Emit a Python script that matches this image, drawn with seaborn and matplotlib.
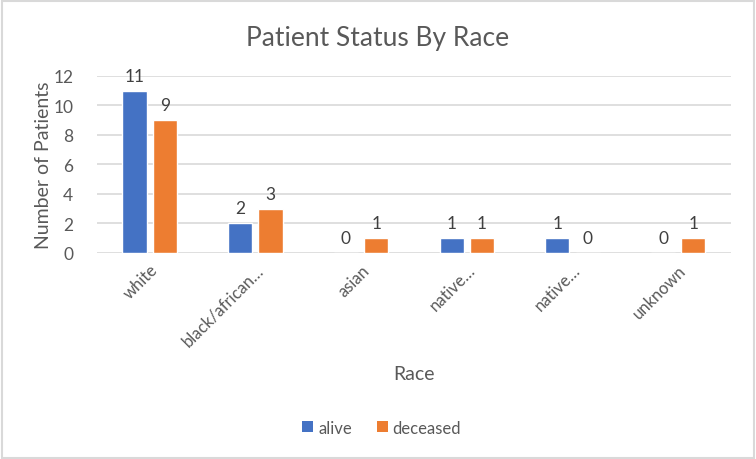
import matplotlib
matplotlib.use("Agg")
import matplotlib.pyplot as plt
import seaborn as sns
import pandas as pd
from matplotlib.patches import Rectangle, Patch

races = ["white", "black/african…", "asian", "native…", "native…", "unknown"]
race_keys = ["white", "black/african", "asian", "native1", "native2", "unknown"]
alive = [11, 2, 0, 1, 1, 0]
deceased = [9, 3, 1, 1, 0, 1]
statuses = ["alive", "deceased"]
colors = ["#4472C4", "#ED7D31"]

df = pd.DataFrame({
    "race": race_keys * 2,
    "status": ["alive"] * len(race_keys) + ["deceased"] * len(race_keys),
    "count": alive + deceased,
})

sns.set_theme(style="white")
plt.rcParams['font.family'] = ['Lato', 'DejaVu Sans']
txt = "#595959"

fig = plt.figure(figsize=(7.56, 4.6), dpi=100)
ax = fig.add_axes([0.128, 0.448, 0.839, 0.385])

sns.barplot(data=df, x="race", y="count", hue="status", order=race_keys,
            hue_order=statuses, palette=colors, width=0.572, gap=0.2,
            saturation=1, ax=ax, legend=False, zorder=3)

for cont in ax.containers:
    ax.bar_label(cont, labels=[f"{int(v)}" for v in cont.datavalues],
                 padding=5, fontsize=12.5, color="#404040")

ax.set_ylim(0, 12)
ax.set_yticks(range(0, 13, 2))
ax.set_xlim(-0.5, len(race_keys) - 0.5)
ax.set_xticks(range(len(races)))
ax.set_xticklabels(races, rotation=45, ha="right", rotation_mode="anchor",
                   fontsize=12, color=txt)
ax.tick_params(axis="y", length=0, pad=17, labelsize=12.5, labelcolor=txt)
ax.tick_params(axis="x", length=0, pad=6)
for s in ax.spines.values():
    s.set_visible(False)
ax.grid(axis="y", color="#D9D9D9", linewidth=1.2, zorder=0)
ax.set_axisbelow(True)

ax.set_ylabel("Number of Patients", fontsize=14, color=txt, labelpad=1)
ax.set_xlabel("Race", fontsize=14, color=txt, labelpad=12)
fig.suptitle("Patient Status By Race", fontsize=19, color=txt, x=0.5, y=0.943)

handles = [Patch(facecolor=c, edgecolor="none") for c in colors]
fig.legend(handles, statuses, loc="center", bbox_to_anchor=(0.505, 0.068),
           ncol=2, frameon=False, fontsize=12, handlelength=0.65,
           handleheight=0.65, handletextpad=0.3, columnspacing=1.5,
           labelcolor=txt)

fig.patches.append(Rectangle((0.002, 0.003), 0.995, 0.993, transform=fig.transFigure,
                             fill=False, edgecolor="#D9D9D9", linewidth=1.5))

fig.savefig("out.png", dpi=100)
